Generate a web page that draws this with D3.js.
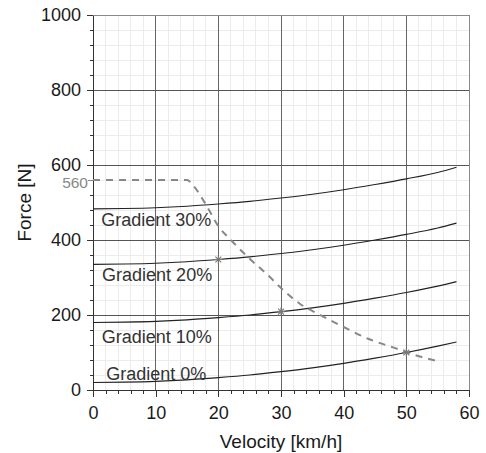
<!DOCTYPE html>
<html>
<head>
<meta charset="utf-8">
<script src="https://cdn.jsdelivr.net/npm/d3@7"></script>
<style>
  body { margin: 0; background: #fff; }
  svg { display: block; font-family: "Liberation Sans", Arial, sans-serif; }
</style>
</head>
<body>
<svg id="chart" width="486" height="453"></svg>
<script>
const width = 486, height = 453;
const margin = {top: 15, right: 17, bottom: 63, left: 93};

// velocity samples [km/h] for the resistance curves
const velocities = [0, 5, 10, 15, 20, 25, 30, 35, 40, 45, 50, 55, 58];
const gradient0 = [20, 21, 23, 27, 33, 40, 49, 59, 71, 85, 100, 117, 128];
const gradient10 = [180, 181, 183, 187, 193, 200, 209, 219, 231, 245, 260, 277, 289];
const gradient20 = [335, 336, 338, 342, 348, 355, 364, 374, 386, 400, 415, 432, 445];
const gradient30 = [483, 484, 486, 490, 496, 503, 512, 522, 534, 548, 563, 580, 594];
const gradientNames = ["Gradient 0%", "Gradient 10%", "Gradient 20%", "Gradient 30%"];

// drive force (dashed)
const driveVelocity = [0, 15, 16, 18, 20, 22, 25, 28, 30, 33, 36, 40, 44, 48, 52, 55];
const driveForce = [560, 560, 545, 495, 437, 400, 350, 305, 272, 230, 202, 168, 136, 113, 90, 77];

// marked points
const markVelocity = [20, 30, 50];
const markForce = [348, 209, 100];

const xTicks = [0, 10, 20, 30, 40, 50, 60];
const yTicks = [0, 200, 400, 600, 800, 1000];
const maxForceTick = 560;

const svg = d3.select("#chart");

const x = d3.scaleLinear()
    .domain([0, 60])
    .range([margin.left, width - margin.right]);

const y = d3.scaleLinear()
    .domain([0, 1000])
    .range([height - margin.bottom, margin.top]);

const xMinor = d3.range(0, 61, 2);
const yMinor = d3.range(0, 1001, 40);

// minor grid
const grid = svg.append("g").attr("shape-rendering", "crispEdges");
grid.selectAll(".vminor").data(xMinor).enter().append("line")
    .attr("x1", d => x(d)).attr("x2", d => x(d))
    .attr("y1", y(0)).attr("y2", y(1000))
    .attr("stroke", "#ececec");
grid.selectAll(".hminor").data(yMinor).enter().append("line")
    .attr("x1", x(0)).attr("x2", x(60))
    .attr("y1", d => y(d)).attr("y2", d => y(d))
    .attr("stroke", "#ececec");

// major grid
grid.selectAll(".vmajor").data(xTicks.slice(1, -1)).enter().append("line")
    .attr("x1", d => x(d)).attr("x2", d => x(d))
    .attr("y1", y(0)).attr("y2", y(1000))
    .attr("stroke", "#666");
grid.selectAll(".hmajor").data(yTicks.slice(1, -1)).enter().append("line")
    .attr("x1", x(0)).attr("x2", x(60))
    .attr("y1", d => y(d)).attr("y2", d => y(d))
    .attr("stroke", "#555");

// frame top / right
grid.append("line")
    .attr("x1", x(0)).attr("x2", x(60))
    .attr("y1", y(1000)).attr("y2", y(1000))
    .attr("stroke", "#888");
grid.append("line")
    .attr("x1", x(60)).attr("x2", x(60))
    .attr("y1", y(0)).attr("y2", y(1000))
    .attr("stroke", "#888");

// axes
function styleAxis(g) {
    g.select(".domain").attr("stroke", "#333");
    g.selectAll(".tick line").attr("stroke", "#333");
    g.selectAll(".tick text").attr("fill", "#1a1a1a").style("font-size", "18px")
        .style("font-family", "'Liberation Sans', Arial, sans-serif");
}

svg.append("g")
    .attr("transform", `translate(0,${y(0)})`)
    .attr("shape-rendering", "crispEdges")
    .call(d3.axisBottom(x).tickValues(xMinor).tickSize(4).tickFormat(""))
    .call(g => g.select(".domain").remove())
    .call(g => g.selectAll(".tick line").attr("stroke", "#333"));

svg.append("g")
    .attr("transform", `translate(0,${y(0)})`)
    .attr("shape-rendering", "crispEdges")
    .call(d3.axisBottom(x).tickValues(xTicks).tickSize(7).tickSizeOuter(0).tickPadding(9))
    .call(styleAxis);

svg.append("g")
    .attr("transform", `translate(${x(0)},0)`)
    .attr("shape-rendering", "crispEdges")
    .call(d3.axisLeft(y).tickValues(yMinor).tickSize(3).tickFormat(""))
    .call(g => g.select(".domain").remove())
    .call(g => g.selectAll(".tick line").attr("stroke", "#333"));

svg.append("g")
    .attr("transform", `translate(${x(0)},0)`)
    .attr("shape-rendering", "crispEdges")
    .call(d3.axisLeft(y).tickValues(yTicks).tickFormat(d3.format("d"))
        .tickSize(6).tickSizeOuter(0).tickPadding(6))
    .call(styleAxis);

// 560 tick
svg.append("line")
    .attr("x1", x(0) - 5).attr("x2", x(0))
    .attr("y1", y(maxForceTick)).attr("y2", y(maxForceTick))
    .attr("stroke", "#888")
    .attr("shape-rendering", "crispEdges");
svg.append("text")
    .attr("x", x(0) - 5)
    .attr("y", y(maxForceTick) + 2.5)
    .attr("dy", "0.35em")
    .attr("text-anchor", "end")
    .attr("fill", "#888")
    .style("font-size", "15.5px")
    .text(maxForceTick);

// resistance curves
const line = d3.line()
    .x(d => x(d[0]))
    .y(d => y(d[1]))
    .curve(d3.curveMonotoneX);

const series = [gradient0, gradient10, gradient20, gradient30];
series.forEach(values => {
    svg.append("path")
        .datum(velocities.map((v, i) => [v, values[i]]))
        .attr("fill", "none")
        .attr("stroke", "#222")
        .attr("stroke-width", 1.1)
        .attr("d", line);
});

// drive force
svg.append("path")
    .datum(driveVelocity.map((v, i) => [v, driveForce[i]]))
    .attr("fill", "none")
    .attr("stroke", "#888")
    .attr("stroke-width", 2)
    .attr("stroke-dasharray", "7,6")
    .attr("d", d3.line().x(d => x(d[0])).y(d => y(d[1])).curve(d3.curveMonotoneX));

// marks: eight-armed star
const star = {
    draw(context, size) {
        const r = Math.sqrt(size) / 2;
        const k = r * Math.SQRT1_2;
        context.moveTo(-r, 0); context.lineTo(r, 0);
        context.moveTo(0, -r); context.lineTo(0, r);
        context.moveTo(-k, -k); context.lineTo(k, k);
        context.moveTo(-k, k); context.lineTo(k, -k);
    }
};
svg.selectAll(".mark")
    .data(markVelocity.map((v, i) => [v, markForce[i]]))
    .enter().append("path")
    .attr("transform", d => `translate(${x(d[0])},${y(d[1])})`)
    .attr("d", d3.symbol(star, 70))
    .attr("fill", "none")
    .attr("stroke", "#777")
    .attr("stroke-width", 1.1);

// gradient labels (anchored in data units)
const labelAt = [[2.1, 27], [1.4, 126], [1.45, 291], [1.3, 437]];
svg.selectAll(".glabel")
    .data(gradientNames)
    .enter().append("text")
    .attr("x", (d, i) => x(labelAt[i][0]))
    .attr("y", (d, i) => y(labelAt[i][1]))
    .attr("fill", "#333")
    .style("font-size", "18px")
    .text(d => d);

// axis titles
svg.append("text")
    .attr("x", (x(0) + x(60)) / 2)
    .attr("y", height - 5)
    .attr("text-anchor", "middle")
    .attr("fill", "#1a1a1a")
    .style("font-size", "19px")
    .text("Velocity [km/h]");

svg.append("text")
    .attr("transform", "rotate(-90)")
    .attr("x", -(y(0) + y(1000)) / 2)
    .attr("y", 31)
    .attr("text-anchor", "middle")
    .attr("fill", "#1a1a1a")
    .style("font-size", "19px")
    .text("Force [N]");
</script>
</body>
</html>
